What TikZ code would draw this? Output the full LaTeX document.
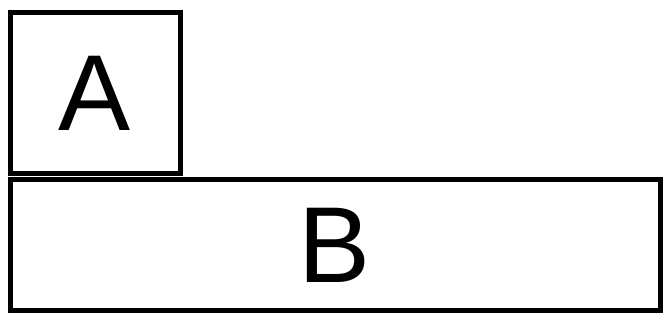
\documentclass[tikz,border=0pt]{standalone}
\usepackage{fontspec}
\setmainfont{Liberation Sans}
\begin{document}
\begin{tikzpicture}[x=1pt, y=-1pt,
    box/.style={draw, line width=5pt, rectangle, inner sep=0pt,
        font=\fontsize{108}{120}\selectfont}]
            \useasboundingbox (0,0) rectangle (664,323);
            \node[box, minimum width=170pt, minimum height=161pt] (a) at (95,93.5) {A};
            \node[box, minimum width=650pt, minimum height=130pt] (b) at (335,245) {B};
        \end{tikzpicture}
\end{document}
